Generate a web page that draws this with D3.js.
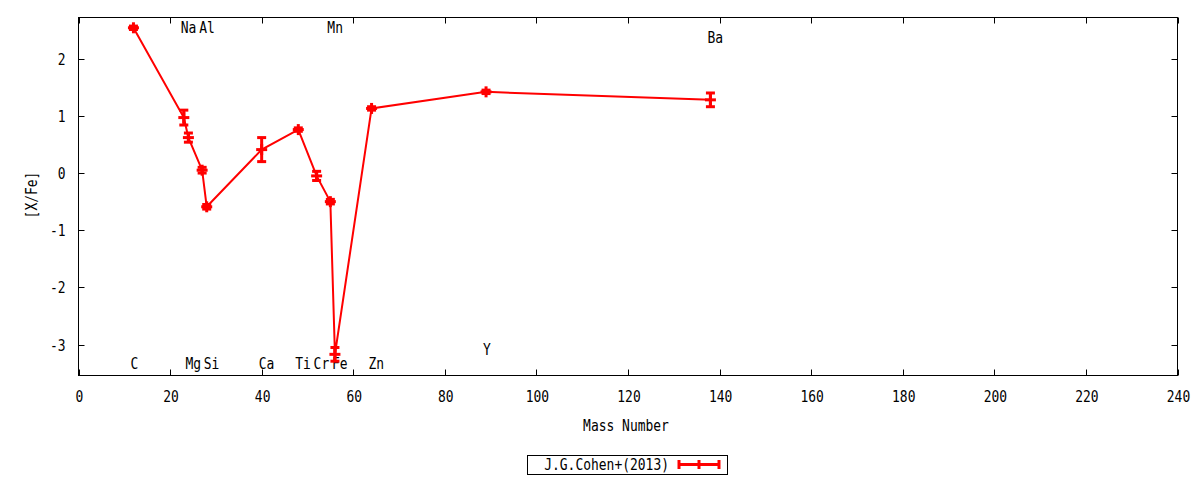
<!DOCTYPE html>
<html>
<head>
<meta charset="utf-8">
<script src="https://cdn.jsdelivr.net/npm/d3@7"></script>
<style>
body{margin:0;background:#fff;}
text{font-family:"DejaVu Sans Mono",monospace;font-size:16px;fill:#000;}
</style>
</head>
<body>
<div id="content"></div>
<script>
// chart size and frame
var svg_width=1200;
var svg_height=480;
var margin={top:17.5, right:22.5, bottom:104.5, left:78.5};
var chart_width=svg_width-margin['left']-margin['right'];
var chart_height=svg_height-margin['top']-margin['bottom'];
var red='#ff0000';
var char_w=7.8; // gnuplot's narrow mono font

// data: element, mass number, [X/Fe], error
var elements=['C','Na','Mg','Al','Si','Ca','Ti','Cr','Mn','Fe','Zn','Y','Ba'];
var mass=[12,23,24,27,28,40,48,52,55,56,64,89,138];
var xfe=[2.54,0.97,0.62,0.05,-0.59,0.41,0.76,-0.05,-0.50,-3.17,1.13,1.42,1.28];
var xfe_err=[0.03,0.13,0.08,0.05,0.04,0.21,0.03,0.08,0.04,0.12,0.03,0.03,0.12];

// element labels drawn in the plot
var label_names=['C','Na','Al','Mg','Si','Ca','Ti','Cr','Fe','Mn','Zn','Y','Ba'];
var label_mass=[12,23,27,24,28,40,48,52,56,55,64,89,138];
var label_y=[-3.32,2.55,2.55,-3.32,-3.32,-3.32,-3.32,-3.32,-3.32,2.55,-3.32,-3.08,2.38];

// axes
var x_ticks=[0,20,40,60,80,100,120,140,160,180,200,220,240];
var y_ticks=[-3,-2,-1,0,1,2];
var x_domain=[0,240];
var y_domain=[-3.54,2.72];
var x_axis_label='Mass Number';
var y_axis_label='[X/Fe]';
var legend_label='J.G.Cohen+(2013)';

var svg=d3.select('#content').append('svg')
	.attr('width',svg_width).attr('height',svg_height);

var xScale=d3.scaleLinear().domain(x_domain).range([margin['left'],margin['left']+chart_width]);
var yScale=d3.scaleLinear().domain(y_domain).range([margin['top']+chart_height,margin['top']]);

//adds a text squeezed to the narrow glyph width
function addText(parent,str,x,y,anchor){
	return parent.append('text')
		.attr('x',x).attr('y',y)
		.attr('text-anchor',anchor)
		.attr('textLength',String(str).length*char_w)
		.attr('lengthAdjust','spacingAndGlyphs')
		.text(str);
}

// ticks inward on all four sides (gnuplot mirror style)
function drawTicks(){
	var tl=6;
	var g=svg.append('g').attr('stroke','#000').attr('stroke-width',1);
	x_ticks.forEach(function(t){
		var x=Math.round(xScale(t))+0.5;
		g.append('line').attr('x1',x).attr('x2',x).attr('y1',yScale.range()[0]).attr('y2',yScale.range()[0]-tl);
		g.append('line').attr('x1',x).attr('x2',x).attr('y1',yScale.range()[1]).attr('y2',yScale.range()[1]+tl);
		addText(svg,t,xScale(t)+1,yScale.range()[0]+26,'middle');
	});
	y_ticks.forEach(function(t){
		var y=Math.round(yScale(t))+0.5;
		g.append('line').attr('x1',xScale.range()[0]).attr('x2',xScale.range()[0]+tl).attr('y1',y).attr('y2',y);
		g.append('line').attr('x1',xScale.range()[1]).attr('x2',xScale.range()[1]-tl).attr('y1',y).attr('y2',y);
		addText(svg,t,xScale.range()[0]-13,yScale(t)+6,'end');
	});
}

drawTicks();

// frame
svg.append('rect')
	.attr('x',margin['left']).attr('y',margin['top'])
	.attr('width',chart_width).attr('height',chart_height)
	.attr('fill','none').attr('stroke','#000').attr('stroke-width',1);

// axis labels
addText(svg,x_axis_label,626,431,'middle');
addText(svg.append('g').attr('transform','translate(37,195) rotate(-90)'),y_axis_label,0,0,'middle');

// element labels
label_names.forEach(function(d,i){
	addText(svg,d,xScale(label_mass[i])-3,yScale(label_y[i])+6,'start');
});

// line through points
var idx=d3.range(elements.length);
var line=d3.line()
	.x(function(i){return xScale(mass[i]);})
	.y(function(i){return yScale(xfe[i]);});
svg.append('path').datum(idx)
	.attr('d',line).attr('fill','none')
	.attr('stroke',red).attr('stroke-width',2);

// error bars and + markers
function drawMarker(g,cx,cy,y1,y2){
	var cap=4.5, arm=5.5;
	g.append('line').attr('x1',cx).attr('x2',cx).attr('y1',y1).attr('y2',y2);
	g.append('line').attr('x1',cx-cap).attr('x2',cx+cap).attr('y1',y1).attr('y2',y1);
	g.append('line').attr('x1',cx-cap).attr('x2',cx+cap).attr('y1',y2).attr('y2',y2);
	g.append('line').attr('x1',cx-arm).attr('x2',cx+arm).attr('y1',cy).attr('y2',cy);
	g.append('line').attr('x1',cx).attr('x2',cx).attr('y1',cy-arm).attr('y2',cy+arm);
}

var mg=svg.append('g').attr('stroke',red).attr('stroke-width',3);
idx.forEach(function(i){
	drawMarker(mg,xScale(mass[i]),yScale(xfe[i]),
		yScale(xfe[i]+xfe_err[i]),yScale(xfe[i]-xfe_err[i]));
});

// legend
var legend=svg.append('g');
legend.append('rect')
	.attr('x',527.5).attr('y',455.5).attr('width',200).attr('height',19)
	.attr('fill','none').attr('stroke','#000').attr('stroke-width',1);
addText(legend,legend_label,669,470,'end');
var lg=legend.append('g').attr('stroke',red).attr('stroke-width',3);
lg.append('line').attr('x1',678).attr('x2',720).attr('y1',464.5).attr('y2',464.5);
lg.append('line').attr('x1',679).attr('x2',679).attr('y1',460).attr('y2',469);
lg.append('line').attr('x1',719).attr('x2',719).attr('y1',460).attr('y2',469);
lg.append('line').attr('x1',699).attr('x2',699).attr('y1',460).attr('y2',469);
</script>
</body>
</html>
